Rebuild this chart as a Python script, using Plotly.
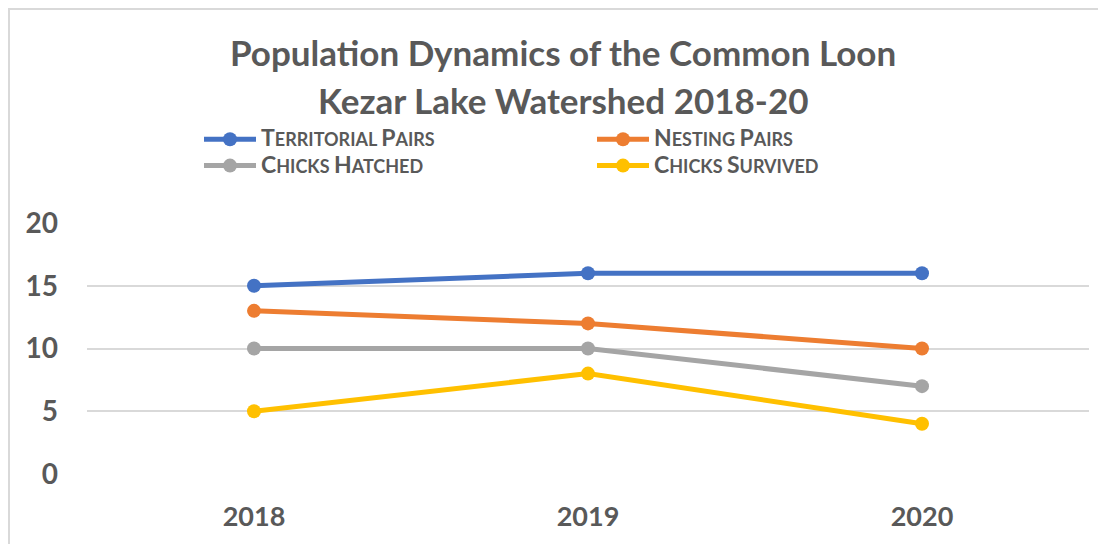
import plotly.graph_objects as go

years = ["2018", "2019", "2020"]
territorial_pairs = [15, 16, 16]
nesting_pairs = [13, 12, 10]
chicks_hatched = [10, 10, 7]
chicks_survived = [5, 8, 4]

BIG = "<span style='font-size:23px'>{}</span>"
series_names = [
    BIG.format("T") + "ERRITORIAL " + BIG.format("P") + "AIRS",
    BIG.format("N") + "ESTING " + BIG.format("P") + "AIRS",
    BIG.format("C") + "HICKS " + BIG.format("H") + "ATCHED",
    BIG.format("C") + "HICKS " + BIG.format("S") + "URVIVED",
]
series_values = [territorial_pairs, nesting_pairs, chicks_hatched, chicks_survived]
colors = ["#4472C4", "#ED7D31", "#A5A5A5", "#FFC000"]

TEXT = "#595959"
FONT = "Lato"
OFF = 8  # page body margin offset

fig = go.Figure()
for name, vals, c in zip(series_names, series_values, colors):
    fig.add_trace(go.Scatter(
        x=years, y=vals, name=name, mode="lines+markers",
        line=dict(color=c, width=5),
        marker=dict(color=c, size=14),
    ))

W, H = 1106, 544
L, T = 87 - OFF, 223 - OFF
R = W - (1089 - OFF)
B = H - (474 - OFF)
pw, ph = W - L - R, H - T - B

def px2x(px):
    return (px - OFF - L) / pw

def px2y(py):
    return (H - B - (py - OFF)) / ph

fig.update_layout(
    width=W, height=H,
    margin=dict(l=L, r=R, t=T, b=B, pad=0),
    paper_bgcolor="white", plot_bgcolor="white",
    font=dict(family=FONT, color=TEXT),
    showlegend=True,
    legend=dict(
        orientation="h",
        x=px2x(199), y=px2y(121), xanchor="left", yanchor="top",
        entrywidth=326, entrywidthmode="pixels",
        itemwidth=52,
        font=dict(family=FONT, size=18, color=TEXT, weight="bold"),
        bgcolor="rgba(0,0,0,0)",
        traceorder="normal",
    ),
    xaxis=dict(
        type="category", range=[-0.5, 2.5],
        showgrid=False, zeroline=False, showline=False, ticks="",
        tickfont=dict(family=FONT, size=27, color=TEXT, weight="bold"),
        ticklabelstandoff=24,
    ),
    yaxis=dict(
        range=[0, 20], tickvals=[0, 5, 10, 15, 20],
        showgrid=True, gridcolor="#D9D9D9", gridwidth=1.5,
        zeroline=False, showline=False, ticks="",
        tickfont=dict(family=FONT, size=28, color=TEXT, weight="bold"),
        ticklabelstandoff=28,
    ),
    annotations=[
        dict(text="Population Dynamics of the Common Loon", xref="paper", yref="paper",
             x=px2x(563), y=px2y(52), xanchor="center", yanchor="middle", showarrow=False,
             font=dict(family=FONT, size=35, color=TEXT, weight="bold")),
        dict(text="Kezar Lake Watershed 2018-20", xref="paper", yref="paper",
             x=px2x(563), y=px2y(100), xanchor="center", yanchor="middle", showarrow=False,
             font=dict(family=FONT, size=35, color=TEXT, weight="bold")),
    ],
    shapes=[
        dict(type="rect", xref="paper", yref="paper",
             x0=px2x(9), x1=px2x(1130), y0=px2y(570), y1=px2y(9),
             line=dict(color="#D9D9D9", width=2), fillcolor="rgba(0,0,0,0)", layer="below"),
    ],
)

fig.write_html("out.html")
